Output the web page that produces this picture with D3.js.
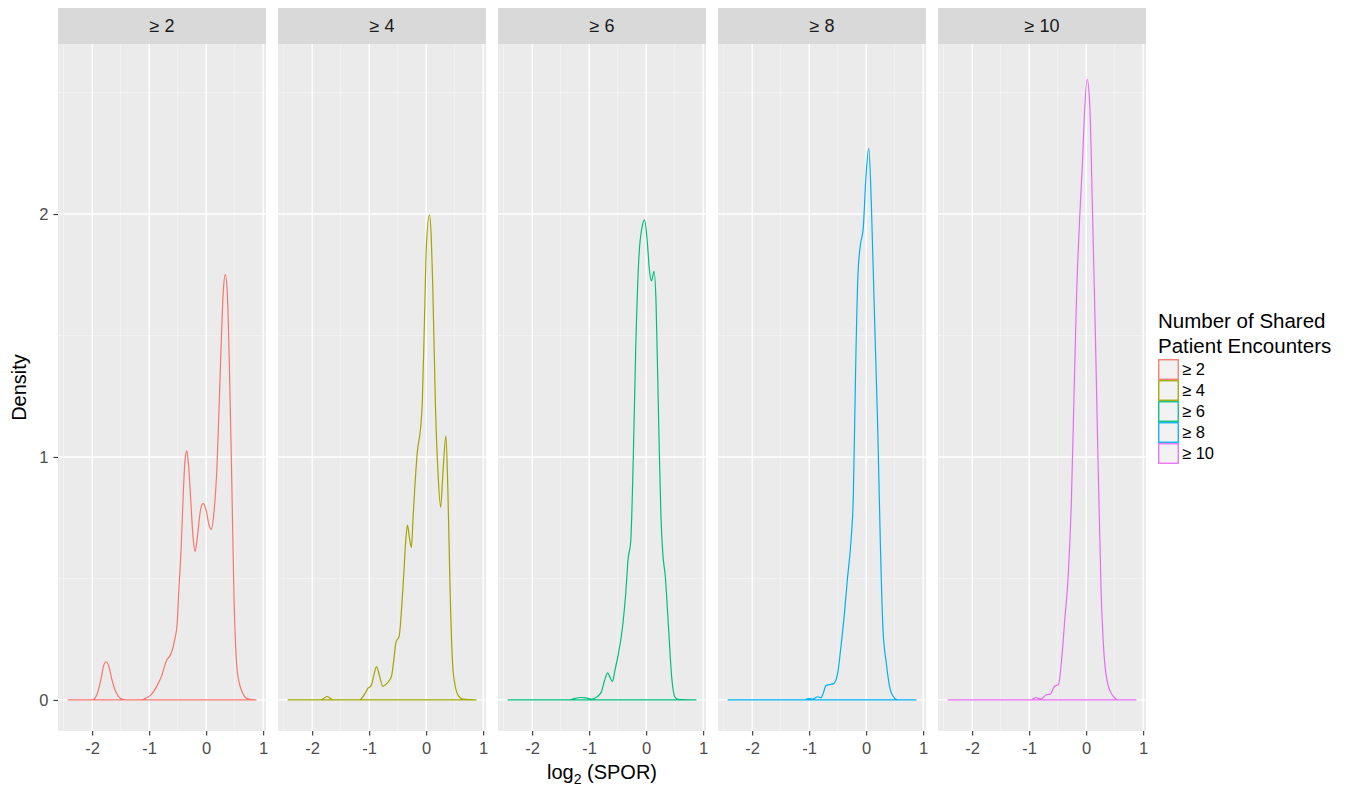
<!DOCTYPE html>
<html><head><meta charset="utf-8">
<script src="https://cdn.jsdelivr.net/npm/d3@7"></script>
<style>body{margin:0;background:#fff}</style>
</head><body>
<script>
const panels = ["≥ 2","≥ 4","≥ 6","≥ 8","≥ 10"];
const colors = ["#F8766D","#A3A500","#00BF7D","#00B0F6","#E76BF3"];
const xTicks = [-2,-1,0,1];
const yTicks = [0,1,2];

const x_ge2 = [-2.43,-2.0,-1.92,-1.85,-1.80,-1.755,-1.71,-1.65,-1.58,-1.50,-1.40,-1.15,-1.05,-0.96,-0.85,-0.78,-0.70,-0.61,-0.55,-0.51,-0.48,-0.44,-0.40,-0.37,-0.34,-0.31,-0.27,-0.23,-0.196,-0.16,-0.10,-0.052,0.00,0.05,0.092,0.14,0.19,0.26,0.30,0.335,0.37,0.41,0.45,0.49,0.537,0.58,0.62,0.70,0.77,0.883];
const d_ge2 = [0,0,0.02,0.08,0.14,0.157,0.14,0.08,0.03,0.006,0,0,0.008,0.023,0.064,0.10,0.16,0.194,0.25,0.31,0.45,0.62,0.86,0.99,1.025,0.97,0.82,0.67,0.611,0.66,0.78,0.809,0.78,0.72,0.702,0.78,0.96,1.44,1.68,1.751,1.68,1.35,0.89,0.41,0.14,0.07,0.04,0.008,0.002,0];

const x_ge4 = [-2.43,-1.85,-1.80,-1.74,-1.68,-1.62,-1.17,-1.08,-1.02,-0.964,-0.92,-0.871,-0.82,-0.762,-0.70,-0.646,-0.606,-0.56,-0.531,-0.473,-0.43,-0.398,-0.36,-0.329,-0.295,-0.26,-0.23,-0.202,-0.156,-0.098,-0.069,-0.029,0.006,0.058,0.09,0.115,0.162,0.208,0.254,0.294,0.346,0.381,0.421,0.462,0.50,0.537,0.60,0.65,0.883];
const d_ge4 = [0,0,0.006,0.014,0.006,0,0,0.024,0.048,0.059,0.10,0.137,0.10,0.056,0.065,0.08,0.10,0.18,0.236,0.264,0.38,0.497,0.65,0.72,0.67,0.627,0.75,0.864,1.019,1.118,1.217,1.57,1.88,1.996,1.90,1.71,1.217,0.934,0.793,0.934,1.087,0.864,0.44,0.158,0.07,0.031,0.008,0.003,0];

const x_ge6 = [-2.43,-1.34,-1.25,-1.15,-1.05,-0.95,-0.88,-0.79,-0.73,-0.675,-0.63,-0.589,-0.55,-0.502,-0.415,-0.358,-0.317,-0.271,-0.225,-0.185,-0.127,-0.069,-0.029,0.017,0.058,0.092,0.138,0.173,0.219,0.26,0.294,0.335,0.392,0.45,0.508,0.56,0.883];
const d_ge6 = [0,0,0.006,0.01,0.008,0.003,0.01,0.031,0.08,0.111,0.09,0.076,0.12,0.172,0.299,0.44,0.58,0.652,1.005,1.428,1.824,1.95,1.976,1.894,1.767,1.725,1.764,1.64,1.146,0.751,0.596,0.511,0.299,0.088,0.01,0.002,0];

const x_ge8 = [-2.43,-1.08,-1.02,-0.93,-0.86,-0.79,-0.75,-0.704,-0.646,-0.571,-0.502,-0.444,-0.387,-0.329,-0.271,-0.225,-0.185,-0.144,-0.098,-0.052,-0.006,0.046,0.092,0.144,0.202,0.248,0.294,0.352,0.421,0.508,0.56,0.883];
const d_ge8 = [0,0,0.005,0.003,0.013,0.009,0.03,0.06,0.063,0.067,0.107,0.216,0.342,0.498,0.64,0.843,1.36,1.752,1.878,1.94,2.144,2.27,2.034,1.596,1.125,0.655,0.295,0.154,0.044,0.005,0,0];

const x_ge10 = [-2.43,-0.964,-0.92,-0.877,-0.83,-0.79,-0.704,-0.629,-0.56,-0.485,-0.433,-0.375,-0.317,-0.26,-0.214,-0.167,-0.11,-0.069,-0.029,0.017,0.063,0.11,0.162,0.208,0.26,0.317,0.392,0.508,0.56,0.883];
const d_ge10 = [0,0,0.006,0.01,0.005,0.003,0.021,0.024,0.055,0.064,0.159,0.331,0.503,0.814,1.245,1.676,2.003,2.193,2.417,2.555,2.452,2.021,1.503,0.986,0.469,0.176,0.055,0.007,0,0];

const seriesX = [x_ge2,x_ge4,x_ge6,x_ge8,x_ge10];
const seriesD = [d_ge2,d_ge4,d_ge6,d_ge8,d_ge10];

const W = 1369, H = 796;
const FONT = "'Liberation Sans', Arial, sans-serif";
const svg = d3.select("body").append("svg").attr("width",W).attr("height",H)
  .style("font-family",FONT);

const panelLeft0 = 58, panelW = 208, panelStep = 220;
const stripTop = 8, panelTop = 44, panelBottom = 731;

const x = d3.scaleLinear().domain([-2.6,1.05]).range([0,panelW]);
const y = d3.scaleLinear().domain([-0.128,2.70]).range([panelBottom,panelTop]);

const xMinor = [-2.5,-1.5,-0.5,0.5];
const yMinor = [0.5,1.5,2.5];

panels.forEach((name,i)=>{
  const g = svg.append("g").attr("transform",`translate(${panelLeft0+i*panelStep},0)`);
  g.append("rect").attr("x",0).attr("y",panelTop).attr("width",panelW).attr("height",panelBottom-panelTop).attr("fill","#EBEBEB");
  g.selectAll(".ym").data(yMinor).enter().append("line")
    .attr("x1",0).attr("x2",panelW).attr("y1",d=>y(d)).attr("y2",d=>y(d))
    .attr("stroke","#F5F5F5").attr("stroke-width",0.7);
  g.selectAll(".xm").data(xMinor.filter(d=>x(d)>=0)).enter().append("line")
    .attr("y1",panelTop).attr("y2",panelBottom).attr("x1",d=>x(d)).attr("x2",d=>x(d))
    .attr("stroke","#F5F5F5").attr("stroke-width",0.7);
  g.selectAll(".yM").data(yTicks).enter().append("line")
    .attr("x1",0).attr("x2",panelW).attr("y1",d=>y(d)).attr("y2",d=>y(d))
    .attr("stroke","#FFFFFF").attr("stroke-width",1.4);
  g.selectAll(".xM").data(xTicks).enter().append("line")
    .attr("y1",panelTop).attr("y2",panelBottom).attr("x1",d=>x(d)).attr("x2",d=>x(d))
    .attr("stroke","#FFFFFF").attr("stroke-width",1.4);
  g.append("rect").attr("x",0).attr("y",stripTop).attr("width",panelW).attr("height",panelTop-stripTop).attr("fill","#D9D9D9");
  g.append("text").attr("x",panelW/2).attr("y",(stripTop+panelTop)/2).attr("dy","0.36em")
    .attr("text-anchor","middle").attr("font-size",18).attr("fill","#1A1A1A").text(name);
  const pts = seriesX[i].map((v,k)=>[v,seriesD[i][k]]);
  const area = d3.area().x(d=>x(d[0])).y0(y(0)).y1(d=>y(d[1])).curve(d3.curveMonotoneX);
  g.append("path").attr("d",area(pts)).attr("fill","none").attr("stroke",colors[i]).attr("stroke-width",1.2);
  const ax = g.append("g").attr("transform",`translate(0,${panelBottom})`)
    .call(d3.axisBottom(x).tickValues(xTicks).tickSize(4.5).tickPadding(7).tickFormat(d3.format("d")));
  ax.select(".domain").remove();
  ax.selectAll(".tick line").attr("stroke","#333333").attr("stroke-width",1.1);
  ax.selectAll(".tick text").attr("font-size",16.5).attr("fill","#4D4D4D").style("font-family",FONT)
    .text(d=>d<0?"-"+Math.abs(d):d);
});

const ay = svg.append("g").attr("transform",`translate(${panelLeft0},0)`)
  .call(d3.axisLeft(y).tickValues(yTicks).tickSize(4.5).tickPadding(5).tickFormat(d3.format("d")));
ay.select(".domain").remove();
ay.selectAll(".tick line").attr("stroke","#333333").attr("stroke-width",1.1);
ay.selectAll(".tick text").attr("font-size",16.5).attr("fill","#4D4D4D").style("font-family",FONT);

svg.append("text").attr("transform",`translate(26,${(panelTop+panelBottom)/2}) rotate(-90)`)
  .attr("text-anchor","middle").attr("font-size",20).attr("fill","#000").text("Density");
const xt = svg.append("text").attr("x",(panelLeft0+panelLeft0+4*panelStep+panelW)/2).attr("y",779)
  .attr("text-anchor","middle").attr("font-size",20).attr("fill","#000");
xt.append("tspan").text("log");
xt.append("tspan").attr("font-size",14).attr("dy",5).text("2");
xt.append("tspan").attr("dy",-5).text(" (SPOR)");

const lg = svg.append("g").attr("transform","translate(1158,0)");
lg.append("text").attr("x",0).attr("y",328).attr("font-size",20.5).attr("fill","#000").text("Number of Shared");
lg.append("text").attr("x",0).attr("y",353).attr("font-size",20.5).attr("fill","#000").text("Patient Encounters");
panels.forEach((name,i)=>{
  const yy = 359 + i*21;
  lg.append("rect").attr("x",0.75).attr("y",yy+0.75).attr("width",19.5).attr("height",19.5)
    .attr("fill","#F2F2F2").attr("stroke",colors[i]).attr("stroke-width",1.3);
  lg.append("text").attr("x",24).attr("y",yy+10.5).attr("dy","0.36em").attr("font-size",16.5).attr("fill","#000").text(name);
});
</script>
</body></html>
